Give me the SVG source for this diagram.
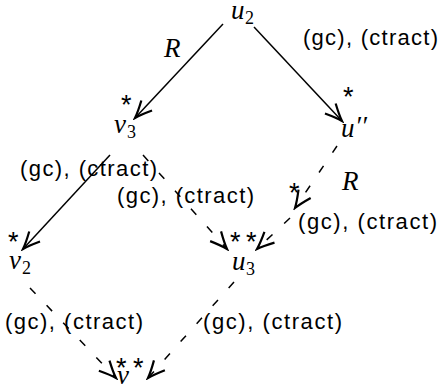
<svg xmlns="http://www.w3.org/2000/svg" width="445" height="389" viewBox="0 0 445 389">
<style>
.m{font-family:"Liberation Serif","DejaVu Serif",serif;font-style:italic;font-size:27px;fill:#000}
.s{font-family:"Liberation Serif","DejaVu Serif",serif;font-size:18px;fill:#000}
.t{font-family:"Liberation Sans","DejaVu Sans",sans-serif;font-size:22px;fill:#000}
.a{font-family:"Liberation Sans","DejaVu Sans",sans-serif;font-size:27px;fill:#000}
.e{stroke:#000;stroke-width:1.5;fill:none}
.d{stroke-dasharray:8 16}
</style>
<defs>
<marker id="ah" markerUnits="userSpaceOnUse" markerWidth="22" markerHeight="22" viewBox="-16 -9 18 18" refX="0" refY="0" orient="auto">
<path d="M-14,-6 Q-5,-1.5 0,0 Q-5,1.5 -14,6" stroke="#000" stroke-width="1.8" fill="none"/>
</marker>
</defs>
<g id="connectors">
<line class="e" x1="223" y1="24" x2="135" y2="118" marker-end="url(#ah)"/>
<line class="e" x1="254" y1="27" x2="342" y2="121" marker-end="url(#ah)"/>
<line class="e" x1="110" y1="155" x2="23" y2="249" marker-end="url(#ah)"/>
<line class="e d" x1="143" y1="155" x2="227" y2="249" marker-end="url(#ah)"/>
<line class="e d" x1="337" y1="146" x2="295" y2="208" marker-end="url(#ah)"/>
<line class="e d" x1="290" y1="218" x2="257" y2="249" marker-end="url(#ah)"/>
<line class="e d" x1="30" y1="288" x2="116" y2="378" marker-end="url(#ah)"/>
<line class="e d" x1="234" y1="282" x2="148" y2="378" marker-end="url(#ah)"/>
</g>
<g id="labels">
<text class="m" x="164" y="57" font-size="25">R</text>
<text class="m" x="342" y="190" font-size="25">R</text>
<text class="t" x="303" y="45" textLength="135" lengthAdjust="spacing">(gc), (ctract)</text>
<text class="t" x="20" y="176" textLength="137" lengthAdjust="spacing">(gc), (ctract)</text>
<text class="t" x="117" y="203" textLength="137" lengthAdjust="spacing">(gc), (ctract)</text>
<text class="t" x="298" y="229" textLength="139" lengthAdjust="spacing">(gc), (ctract)</text>
<text class="t" x="5" y="329" textLength="138" lengthAdjust="spacing">(gc), (ctract)</text>
<text class="t" x="203" y="329" textLength="139" lengthAdjust="spacing">(gc), (ctract)</text>
<text class="a" x="121" y="114">*</text>
<text class="a" x="343" y="106">*</text>
<text class="a" x="289" y="202">*</text>
<text class="a" x="8" y="251">*</text>
<text class="a" x="230" y="251">*</text>
<text class="a" x="246" y="251">*</text>
<text class="a" x="116" y="377">*</text>
<text class="a" x="133" y="377">*</text>
</g>
<g id="u2"><text class="m" x="231" y="19">u</text><text class="s" x="245" y="24">2</text></g>
<g id="v3"><text class="m" x="114" y="133">v</text><text class="s" x="127" y="138">3</text></g>
<g id="upp"><text class="m" x="341" y="137">u</text><text class="m" x="355" y="135" font-size="24">′′</text></g>
<g id="v2"><text class="m" x="9" y="269">v</text><text class="s" x="22" y="274">2</text></g>
<g id="u3"><text class="m" x="232" y="270">u</text><text class="s" x="246" y="275">3</text></g>
<g id="v"><text class="m" x="117" y="384">v</text></g>
</svg>
